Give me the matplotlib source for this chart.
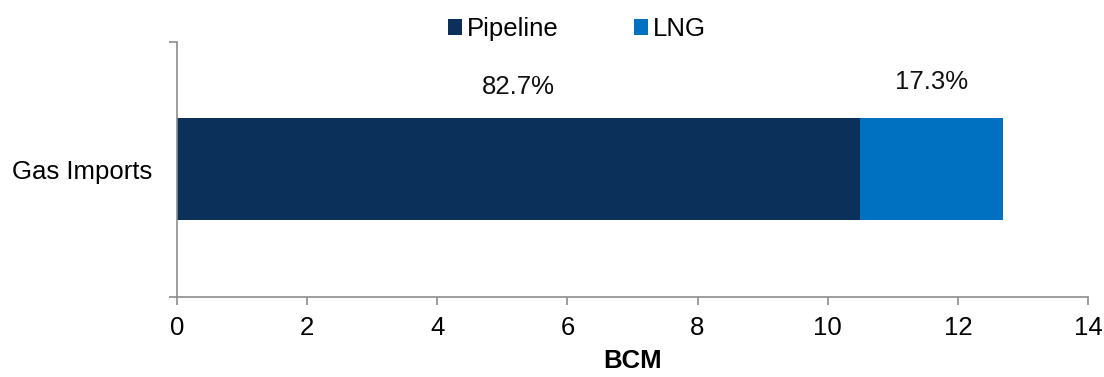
import matplotlib.pyplot as plt
import numpy as np

plt.rcParams['font.family'] = ['Liberation Sans', 'DejaVu Sans']

# data
category = ['Gas Imports']
series_names = ['Pipeline', 'LNG']
pipeline = [10.5]
lng = [2.2]
pct_labels = ['82.7%', '17.3%']
colors = ['#0b3059', '#0070c0']
xticks = [0, 2, 4, 6, 8, 10, 12, 14]

fig = plt.figure(figsize=(11.04, 3.77), dpi=100)
ax = fig.add_axes([0.1603, 0.2122, 0.8252, 0.6764])

y = np.arange(len(category))
b1 = ax.barh(y, pipeline, height=0.4, color=colors[0], label=series_names[0])
b2 = ax.barh(y, lng, left=pipeline, height=0.4, color=colors[1], label=series_names[1])

# percent labels above each segment
ax.text(pipeline[0] / 2, 0.324, pct_labels[0], ha='center', va='center', fontsize=18.5, color='#111111')
ax.text(pipeline[0] + lng[0] / 2, 0.343, pct_labels[1], ha='center', va='center', fontsize=18.5, color='#111111')

ax.set_xlim(0, 14)
ax.set_ylim(-0.5, 0.5)
ax.set_xticks(xticks)
ax.set_xticklabels([str(t) for t in xticks], fontsize=18.5)
ax.set_yticks(y)
ax.set_yticklabels(category, fontsize=18.5)
ax.set_yticks([-0.5, 0.5], minor=True)

gray = '#8c8c8c'
for s in ['top', 'right']:
    ax.spines[s].set_visible(False)
for s in ['left', 'bottom']:
    ax.spines[s].set_color(gray)
    ax.spines[s].set_linewidth(1.2)

ax.tick_params(axis='x', direction='out', length=6, width=1.2, color=gray, pad=8)
ax.tick_params(axis='y', which='major', length=0, pad=18)
ax.tick_params(axis='y', which='minor', direction='out', length=6, width=1.2, color=gray)

ax.set_xlabel('BCM', fontsize=18.5, fontweight='bold', labelpad=6)

fig.legend(handles=[b1, b2], loc='center', bbox_to_anchor=(577 / 1104, 1 - 29 / 377),
           ncol=2, frameon=False, fontsize=18.5, handlelength=0.56, handleheight=0.56,
           handletextpad=0.2, columnspacing=2.9, borderaxespad=0, borderpad=0)

fig.savefig('out.png', dpi=100)
